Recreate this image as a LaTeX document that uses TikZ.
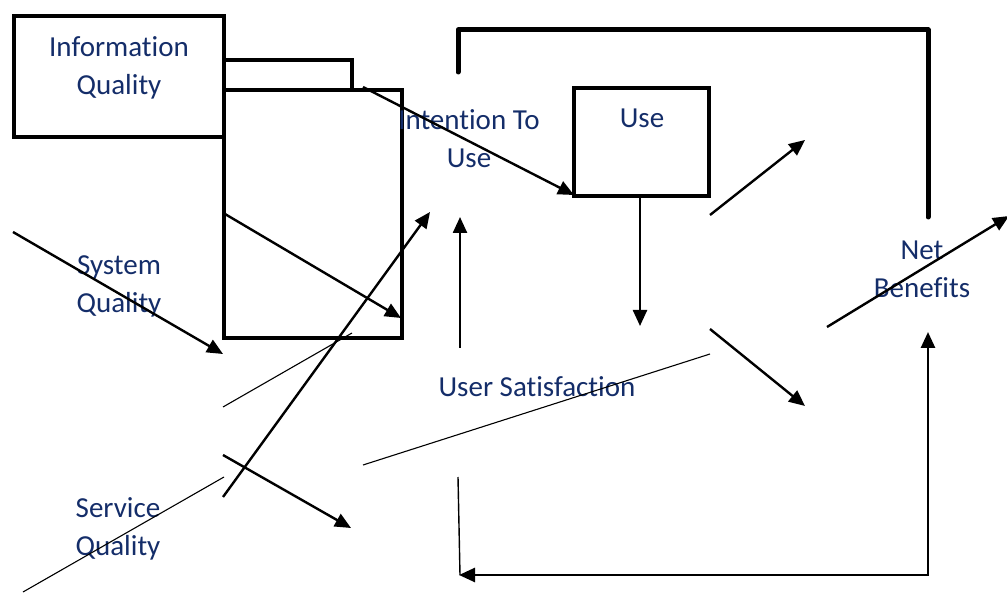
\documentclass[tikz,border=0pt]{standalone}
\usepackage{fontspec}
\setmainfont{Carlito}[Ligatures={NoCommon}]
\usetikzlibrary{arrows.meta}
\definecolor{labelblue}{RGB}{20,45,105}
\begin{document}
\begin{tikzpicture}[x=1pt,y=-1pt,
  lbl/.style={text=labelblue, font=\fontsize{29}{38}\selectfont, align=center, inner sep=0pt},
  heavy/.style={line width=4.5pt},
  usebox/.style={line width=4pt},
  bracketline/.style={line width=5pt, line cap=round, line join=round},
  tip/.style={-{Triangle[length=16pt,width=14pt]}},
  arr/.style={line width=2.4pt, tip},
  thinline/.style={line width=1.1pt}]
\useasboundingbox (0,0) rectangle (1007,593);

% boxes
\draw[heavy] (14,16) rectangle (224,137);
\draw[heavy] (224,60) rectangle (352,90);
\draw[heavy] (224,90) rectangle (402,338);
\draw[usebox] (574,88) rectangle (709,196);
\draw[bracketline] (458,72) -- (458,30) -- (928,30) -- (928,217);

% labels
\node[lbl] (iq)  at (119,68)  {Information\\Quality};
\node[lbl] (sq)  at (119,286) {System\\Quality};
\node[lbl] (svq) at (118,529) {Service\\Quality};
\node[lbl] (itu) at (469,139) {Intention To\\Use};
\node[lbl] (use) at (642,118) {Use};
\node[lbl] (nb)  at (922,269) {Net\\Benefits};
\node[lbl] (us)  at (537,387) {User Satisfaction};

% end points of the connectors
\coordinate (p1) at (363,87);   \coordinate (q1) at (574,195);
\coordinate (p2) at (640,197);  \coordinate (q2) at (640,326);
\coordinate (p3) at (710,215);  \coordinate (q3) at (805,140);
\coordinate (p4) at (710,329);  \coordinate (q4) at (805,406);
\coordinate (p5) at (827,327);  \coordinate (q5) at (1009,216);
\coordinate (p6) at (928,332);  \coordinate (c6) at (928,575);  \coordinate (q6) at (459,575);
\coordinate (p7) at (458,477);  \coordinate (q7) at (460,575);
\coordinate (p8) at (460,348);  \coordinate (q8) at (460,217);
\coordinate (p9) at (223,497);  \coordinate (q9) at (430,212);
\coordinate (p10) at (225,214); \coordinate (q10) at (401,318);
\coordinate (p11) at (13,232);  \coordinate (q11) at (223,354);
\coordinate (p12) at (223,455); \coordinate (q12) at (351,528);
\coordinate (p13) at (223,407); \coordinate (q13) at (352,333);
\coordinate (p14) at (23,592);  \coordinate (q14) at (224,477);
\coordinate (p15) at (363,465); \coordinate (q15) at (710,354);

% arrows
\draw[arr] (p1) -- (q1);
\draw[arr] (p2) -- (q2);
\draw[arr] (p3) -- (q3);
\draw[arr] (p4) -- (q4);
\draw[arr] (p5) -- (q5);
\draw[line width=2.6pt, {Triangle[length=16pt,width=14pt]}-{Triangle[length=16pt,width=14pt]}] (p6) -- (c6) -- (q6);
\draw[line width=1.4pt] (p7) -- (q7);
\draw[arr] (p8) -- (q8);
\draw[arr] (p9) -- (q9);
\draw[arr] (p10) -- (q10);
\draw[arr] (p11) -- (q11);
\draw[arr] (p12) -- (q12);

% plain lines
\draw[thinline] (p13) -- (q13);
\draw[thinline] (p14) -- (q14);
\draw[thinline] (p15) -- (q15);
\end{tikzpicture}
\end{document}
